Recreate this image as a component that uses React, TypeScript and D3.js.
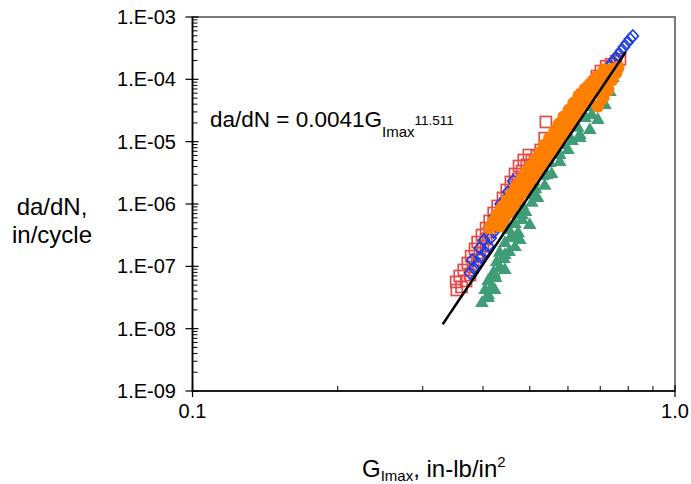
import React from 'react';
import * as d3 from 'd3';

// G_Imax (in-lb/in^2), da/dN (in/cycle)
const redSquares: [number, number][] = [
  [0.353, 4.17e-8], [0.361, 4.66e-8], [0.352, 5.61e-8], [0.369, 5.82e-8], [0.358, 7.0e-8],
  [0.376, 7.26e-8], [0.365, 8.73e-8], [0.381, 9.75e-8], [0.372, 1.13e-7], [0.389, 1.26e-7],
  [0.378, 1.46e-7], [0.394, 1.64e-7], [0.385, 1.9e-7], [0.4, 2.12e-7], [0.39, 2.45e-7],
  [0.406, 2.74e-7], [0.398, 3.18e-7], [0.413, 3.56e-7], [0.406, 4.12e-7], [0.421, 4.6e-7],
  [0.413, 5.34e-7], [0.429, 6.19e-7], [0.421, 7.17e-7], [0.438, 8.01e-7], [0.429, 9.29e-7],
  [0.446, 1.04e-6], [0.44, 1.25e-6], [0.455, 1.39e-6], [0.448, 1.68e-6], [0.464, 1.88e-6],
  [0.457, 2.26e-6], [0.473, 2.52e-6], [0.466, 3.03e-6], [0.482, 3.38e-6], [0.475, 4.07e-6],
  [0.493, 4.22e-6], [0.486, 5.08e-6], [0.505, 5.08e-6], [0.498, 6.11e-6], [0.517, 5.89e-6],
  [0.527, 7.35e-6], [0.537, 1.14e-5], [0.54, 2.07e-5], [0.555, 8.83e-6], [0.572, 1.28e-5],
  [0.591, 1.85e-5], [0.612, 2.68e-5], [0.629, 3.87e-5], [0.644, 5.61e-5], [0.666, 7.26e-5],
  [0.682, 9.05e-5], [0.689, 1.13e-4], [0.702, 1.36e-4], [0.72, 1.62e-4], [0.737, 1.75e-4],
  [0.755, 1.95e-4], [0.769, 2.1e-4], [0.695, 8.11e-5],
];

const blueDiamonds: [number, number][] = [
  [0.376, 7.82e-8], [0.383, 9.4e-8], [0.39, 1.13e-7], [0.38, 1.26e-7], [0.396, 1.41e-7],
  [0.404, 1.7e-7], [0.394, 1.97e-7], [0.41, 2.12e-7], [0.402, 2.64e-7], [0.415, 2.85e-7],
  [0.421, 3.56e-7], [0.411, 4.12e-7], [0.427, 4.43e-7], [0.433, 5.54e-7], [0.423, 6.42e-7],
  [0.44, 6.91e-7], [0.446, 8.62e-7], [0.435, 1.0e-6], [0.453, 1.08e-6], [0.459, 1.34e-6],
  [0.451, 1.56e-6], [0.466, 1.68e-6], [0.473, 2.02e-6], [0.462, 2.34e-6], [0.48, 2.52e-6],
  [0.488, 3.03e-6], [0.498, 3.64e-6], [0.507, 4.38e-6], [0.517, 5.27e-6], [0.527, 6.34e-6],
  [0.537, 7.63e-6], [0.547, 9.16e-6], [0.558, 1.1e-5], [0.569, 1.33e-5], [0.58, 1.6e-5],
  [0.591, 1.92e-5], [0.603, 2.31e-5], [0.614, 2.78e-5], [0.626, 3.34e-5], [0.638, 4.02e-5],
  [0.651, 4.84e-5], [0.663, 5.82e-5], [0.676, 6.99e-5], [0.689, 8.42e-5], [0.699, 1.01e-4],
  [0.709, 1.17e-4], [0.72, 1.36e-4], [0.73, 1.58e-4], [0.74, 1.83e-4], [0.751, 2.12e-4],
  [0.762, 2.46e-4], [0.773, 2.85e-4], [0.784, 3.3e-4], [0.795, 3.83e-4], [0.807, 4.44e-4],
  [0.818, 4.95e-4],
];

const greenTriangles: [number, number][] = [
  [0.398, 2.58e-8], [0.41, 3.1e-8], [0.404, 4.17e-8], [0.417, 4.66e-8], [0.41, 5.82e-8],
  [0.425, 6.5e-8], [0.421, 8.11e-8], [0.433, 9.4e-8], [0.427, 1.17e-7], [0.442, 1.31e-7],
  [0.433, 1.64e-7], [0.453, 1.7e-7], [0.466, 2.04e-7], [0.444, 2.37e-7], [0.459, 2.85e-7],
  [0.473, 3.42e-7], [0.451, 3.83e-7], [0.466, 4.77e-7], [0.482, 5.54e-7], [0.468, 6.91e-7],
  [0.49, 7.44e-7], [0.482, 9.64e-7], [0.505, 1.04e-6], [0.519, 1.25e-6], [0.495, 1.44e-6],
  [0.514, 1.74e-6], [0.537, 1.95e-6], [0.51, 2.26e-6], [0.532, 2.81e-6], [0.555, 3.03e-6],
  [0.527, 3.78e-6], [0.55, 4.54e-6], [0.577, 4.72e-6], [0.545, 5.67e-6], [0.569, 6.83e-6],
  [0.6, 7.35e-6], [0.583, 8.83e-6], [0.612, 1.02e-5], [0.635, 1.14e-5], [0.597, 1.33e-5],
  [0.629, 1.66e-5], [0.666, 1.54e-5], [0.617, 2.07e-5], [0.651, 2.4e-5], [0.692, 2.23e-5],
  [0.641, 3.1e-5], [0.679, 3.59e-5], [0.716, 3.87e-5], [0.666, 4.66e-5], [0.699, 5.82e-5],
  [0.733, 6.26e-5], [0.692, 7.82e-5], [0.723, 9.05e-5], [0.744, 1.05e-4], [0.713, 1.21e-4],
  [0.41, 3.47e-8], [0.423, 7.26e-8], [0.444, 1.52e-7], [0.459, 3.18e-7], [0.482, 6.66e-7],
  [0.507, 1.39e-6], [0.542, 2.92e-6], [0.577, 6.11e-6], [0.635, 1.28e-5], [0.672, 2.68e-5],
  [0.709, 5.61e-5], [0.477, 2.64e-7], [0.5, 4.6e-7], [0.444, 8.73e-8], [0.423, 4.17e-8],
];

const orangeCircles: [number, number][] = [
  [0.413, 4.12e-7], [0.433, 4.43e-7], [0.421, 5.34e-7], [0.442, 5.75e-7], [0.427, 6.66e-7],
  [0.451, 7.17e-7], [0.438, 8.62e-7], [0.462, 9.29e-7], [0.448, 1.12e-6], [0.473, 1.2e-6],
  [0.459, 1.44e-6], [0.484, 1.56e-6], [0.468, 1.88e-6], [0.495, 2.02e-6], [0.48, 2.43e-6],
  [0.507, 2.62e-6], [0.49, 3.14e-6], [0.519, 3.38e-6], [0.502, 4.07e-6], [0.532, 4.38e-6],
  [0.514, 5.27e-6], [0.545, 5.67e-6], [0.527, 6.83e-6], [0.558, 7.35e-6], [0.537, 8.83e-6],
  [0.569, 9.51e-6], [0.55, 1.14e-5], [0.583, 1.23e-5], [0.564, 1.48e-5], [0.597, 1.6e-5],
  [0.575, 1.92e-5], [0.609, 2.07e-5], [0.588, 2.49e-5], [0.623, 2.68e-5], [0.603, 3.22e-5],
  [0.638, 3.47e-5], [0.617, 4.17e-5], [0.654, 4.49e-5], [0.632, 5.41e-5], [0.666, 5.82e-5],
  [0.651, 6.99e-5], [0.682, 7.53e-5], [0.669, 8.6e-5], [0.699, 9.75e-5], [0.69, 1.1e-4],
  [0.716, 1.2e-4], [0.713, 1.42e-4], [0.737, 1.45e-4], [0.74, 9.75e-5], [0.755, 1.28e-4],
  [0.762, 1.55e-4], [0.726, 6.74e-5], [0.709, 5.02e-5], [0.692, 3.73e-5],
];

// power-law fit shown on the chart
const fitCoef = 0.0041;
const fitExp = 11.511;
const fitRange = [0.33, 0.79];

const yTickValues = [1e-9, 1e-8, 1e-7, 1e-6, 1e-5, 1e-4, 1e-3];
const yTickLabels = ['1.E-09', '1.E-08', '1.E-07', '1.E-06', '1.E-05', '1.E-04', '1.E-03'];
const xTickValues = [0.1, 1];
const xTickLabels = ['0.1', '1.0'];

const W = 691;
const H = 484;
const plot = { left: 192.5, right: 675, top: 17, bottom: 391 };
const font = '"Liberation Sans", Arial, sans-serif';

const App = () => {
  const x = d3.scaleLog().domain([0.1, 1]).range([plot.left, plot.right]);
  const y = d3.scaleLog().domain([1e-9, 1e-3]).range([plot.bottom, plot.top]);

  const yMinor: number[] = [];
  yTickValues.slice(0, -1).forEach((d) => {
    for (let k = 2; k <= 9; k++) yMinor.push(d * k);
  });
  const xMinor: number[] = [];
  for (let k = 2; k <= 9; k++) xMinor.push(0.1 * k);

  const fitPts = d3.range(0, 41).map((i) => {
    const g = fitRange[0] + ((fitRange[1] - fitRange[0]) * i) / 40;
    return [g, fitCoef * Math.pow(g, fitExp)] as [number, number];
  });
  const fitLine = d3
    .line<[number, number]>()
    .x((d) => x(d[0]))
    .y((d) => y(d[1]));

  const tri = d3.symbol().type(d3.symbolTriangle).size(80)();
  const diamond = 'M0,-6L5.5,0L0,6L-5.5,0Z';

  return (
    <svg width={W} height={H} style={{ position: 'absolute', left: 0, top: 0, background: '#fff' }}>
      <rect x={0} y={0} width={W} height={H} fill="#fff" />

      {/* plot frame */}
      <rect
        x={plot.left}
        y={plot.top}
        width={plot.right - plot.left}
        height={plot.bottom - plot.top}
        fill="none"
        stroke="#7a7a7a"
        strokeWidth={2}
      />

      {/* markers */}
      <g clipPath="url(#clip)">
        {redSquares.map((d, i) => (
          <rect
            key={'r' + i}
            x={x(d[0]) - 5.5}
            y={y(d[1]) - 5.5}
            width={11}
            height={11}
            fill="none"
            stroke="#e34a4a"
            strokeWidth={1.7}
          />
        ))}
        {blueDiamonds.map((d, i) => (
          <path
            key={'b' + i}
            d={diamond}
            transform={`translate(${x(d[0])},${y(d[1])})`}
            fill="none"
            stroke="#1c3fe0"
            strokeWidth={1.7}
          />
        ))}
        {greenTriangles.map((d, i) => (
          <path
            key={'g' + i}
            d={tri || ''}
            transform={`translate(${x(d[0])},${y(d[1])})`}
            fill="#3f9e78"
          />
        ))}
        {orangeCircles.map((d, i) => (
          <circle key={'o' + i} cx={x(d[0])} cy={y(d[1])} r={6.5} fill="#ff7f00" />
        ))}
        <path d={fitLine(fitPts) || ''} fill="none" stroke="#000" strokeWidth={2.5} />
      </g>

      {/* y axis */}
      <line x1={plot.left} x2={plot.left} y1={plot.top} y2={plot.bottom} stroke="#000" strokeWidth={1.5} />
      {yMinor.map((d, i) => (
        <line key={'ym' + i} x1={plot.left} x2={plot.left + 5} y1={y(d)} y2={y(d)} stroke="#000" strokeWidth={1} />
      ))}
      {yTickValues.map((d, i) => (
        <g key={'yt' + i}>
          <line x1={plot.left - 7} x2={plot.left + 6} y1={y(d)} y2={y(d)} stroke="#000" strokeWidth={1.2} />
          <text
            x={176}
            y={y(d) + 7}
            textAnchor="end"
            fontFamily={font}
            fontSize={20}
            fill="#000"
          >
            {yTickLabels[i]}
          </text>
        </g>
      ))}

      {/* x axis */}
      <line x1={plot.left} x2={plot.right} y1={plot.bottom} y2={plot.bottom} stroke="#000" strokeWidth={1.5} />
      {xMinor.map((d, i) => (
        <line key={'xm' + i} x1={x(d)} x2={x(d)} y1={plot.bottom} y2={plot.bottom - 5} stroke="#000" strokeWidth={1} />
      ))}
      {xTickValues.map((d, i) => (
        <g key={'xt' + i}>
          <line x1={x(d)} x2={x(d)} y1={plot.bottom - 6} y2={plot.bottom + 6} stroke="#000" strokeWidth={1.2} />
          <text x={x(d)} y={418} textAnchor="middle" fontFamily={font} fontSize={20} fill="#000">
            {xTickLabels[i]}
          </text>
        </g>
      ))}

      {/* equation */}
      <text x={210} y={127} fontFamily={font} fontSize={22.5} fill="#000">
        da/dN = 0.0041G
        <tspan fontSize={15} dy={10}>Imax</tspan>
        <tspan fontSize={13.5} dy={-12}>11.511</tspan>
      </text>

      {/* axis titles */}
      <text x={362} y={477} fontFamily={font} fontSize={24} fill="#000">
        G<tspan fontSize={15} dy={4}>Imax</tspan>
        <tspan dy={-4}>, in-lb/in</tspan>
        <tspan fontSize={15} dy={-10}>2</tspan>
      </text>
      <text x={52} y={215} textAnchor="middle" fontFamily={font} fontSize={24} fill="#000">
        da/dN,
      </text>
      <text x={52} y={243} textAnchor="middle" fontFamily={font} fontSize={24} fill="#000">
        in/cycle
      </text>

      <defs>
        <clipPath id="clip">
          <rect x={plot.left} y={plot.top} width={plot.right - plot.left} height={plot.bottom - plot.top} />
        </clipPath>
      </defs>
    </svg>
  );
};

export default App;
